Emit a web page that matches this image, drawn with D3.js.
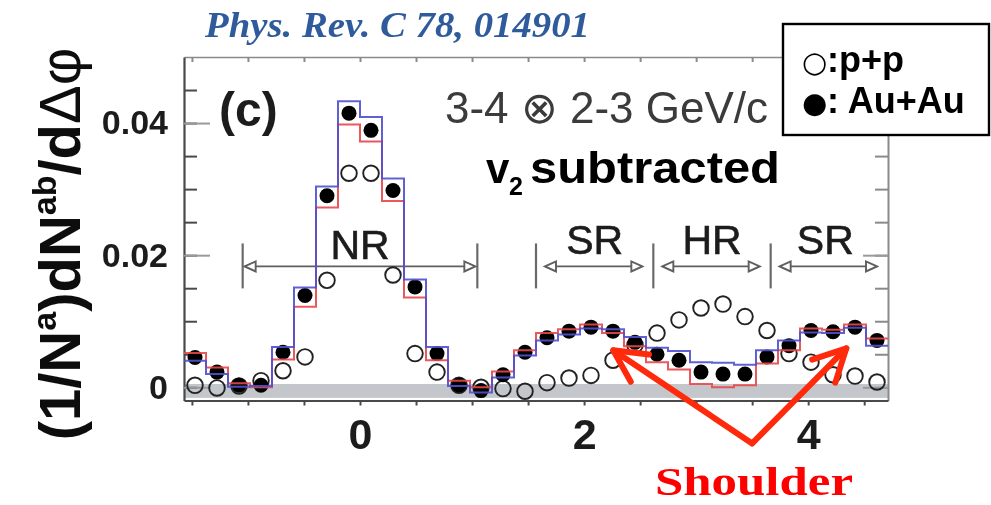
<!DOCTYPE html>
<html><head><meta charset="utf-8">
<script src="https://cdn.jsdelivr.net/npm/d3@7"></script>
<style>
html,body{margin:0;padding:0;background:#fff;}
svg{display:block;}
</style></head>
<body>
<svg id="chart" width="991" height="505"></svg>
<script>
// Δφ binning: 32 bins of width π/16 spanning [-π/2, 3π/2]
const nBins = 32;
const binWidth = Math.PI / 16;
const phiMin = -Math.PI / 2, phiMax = 3 * Math.PI / 2;

// Au+Au jet-induced pair yield per bin (v2 subtracted)
const auauValues = [0.0045, 0.0023, 0.0003, 0.0003, 0.0053, 0.0139, 0.0290, 0.0415,
                    0.0389, 0.0298, 0.0152, 0.0051, 0.0003, -0.0005, 0.0019, 0.0053,
                    0.0075, 0.0085, 0.0091, 0.0085, 0.0068, 0.0050, 0.0041, 0.0023,
                    0.0020, 0.0020, 0.0046, 0.0063, 0.0086, 0.0084, 0.0091, 0.0071];
// p+p reference per bin
const ppValues = [0.0003, -0.0001, 0.0002, 0.0010, 0.0025, 0.0046, 0.0162, 0.0324,
                  0.0324, 0.0170, 0.0051, 0.0023, 0.0003, 0.0000, -0.0002, -0.0006,
                  0.0007, 0.0014, 0.0018, 0.0041, 0.0064, 0.0082, 0.0102, 0.0120,
                  0.0126, 0.0107, 0.0086, 0.0051, 0.0038, 0.0019, 0.0017, 0.0008];
// v2 systematic envelope (blue and red step histograms)
const auauBlue = [0.0040, 0.0020, 0.0001, 0.0002, 0.0061, 0.0151, 0.0304, 0.0433,
                  0.0409, 0.0316, 0.0163, 0.0061, 0.0002, -0.0008, 0.0015, 0.0048,
                  0.0071, 0.0080, 0.0089, 0.0088, 0.0076, 0.0060, 0.0055, 0.0038,
                  0.0037, 0.0034, 0.0056, 0.0071, 0.0083, 0.0082, 0.0090, 0.0063];
const auauRed = [0.0052, 0.0030, 0.0006, 0.0000, 0.0042, 0.0122, 0.0272, 0.0398,
                 0.0372, 0.0282, 0.0136, 0.0041, 0.0010, 0.0000, 0.0024, 0.0056,
                 0.0082, 0.0088, 0.0095, 0.0082, 0.0062, 0.0038, 0.0027, 0.0005,
                 0.0000, 0.0003, 0.0036, 0.0056, 0.0089, 0.0087, 0.0095, 0.0074];

// normalization uncertainty band around zero
const zeroBand = [-0.0016, 0.0005];

// ticks
const yMinorTicks = [0, 0.005, 0.01, 0.015, 0.02, 0.025, 0.03, 0.035, 0.04, 0.045];
const yMajorTicks = [0, 0.02, 0.04];
const xTicks = [-1.5, -1, -0.5, 0, 0.5, 1, 1.5, 2, 2.5, 3, 3.5, 4, 4.5];
const xLabelTicks = [0, 2, 4];

// Δφ regions: near side, shoulder, head
const regionNames = ["NR", "SR", "HR", "SR"];
const regionFrom = [-Math.PI / 3, Math.PI / 2, 5 * Math.PI / 6, 7 * Math.PI / 6];
const regionTo = [Math.PI / 3, 5 * Math.PI / 6, 7 * Math.PI / 6, 3 * Math.PI / 2];
const regionArrowLevel = 0.0183;

// shoulder annotation: arrow tips and common vertex (Δφ, yield)
const shoulderTips = [[2.26, 0.0056], [4.34, 0.0059]];
const shoulderVertex = [3.50, -0.0085];

const SANS = "'Liberation Sans', Arial, Helvetica, sans-serif";
const SERIF = "'Liberation Serif', 'Times New Roman', serif";

const svg = d3.select("#chart");
const x = d3.scaleLinear().domain([phiMin, phiMax]).range([184, 888]);
const y = d3.scaleLinear().domain([-0.002, 0.05]).range([400.5, 57]);

const edges = d3.range(nBins + 1).map(i => phiMin + i * binWidth);
const centers = d3.range(nBins).map(i => phiMin + (i + 0.5) * binWidth);

const defs = svg.append("defs");
defs.append("filter").attr("id", "soft")
  .attr("x", "-5%").attr("y", "-5%").attr("width", "110%").attr("height", "110%")
  .append("feGaussianBlur").attr("stdDeviation", 0.6);

const fig = svg.append("g").attr("filter", "url(#soft)");

// zero band
fig.append("rect")
  .attr("x", x(phiMin)).attr("width", x(phiMax) - x(phiMin))
  .attr("y", y(zeroBand[1])).attr("height", y(zeroBand[0]) - y(zeroBand[1]))
  .attr("fill", "#c3c6cb");

// axes
function styleAxis(g, color, width) {
  g.select(".domain").attr("stroke", color).attr("stroke-width", width);
  g.selectAll(".tick line").attr("stroke", color).attr("stroke-width", 2);
}
const gTop = fig.append("g").attr("transform", `translate(0,${y.range()[1]})`)
  .call(d3.axisTop(x).tickValues(xTicks).tickSize(-5).tickSizeOuter(0).tickFormat(""));
styleAxis(gTop, "#8a8a8a", 1.6);

const gRight = fig.append("g").attr("transform", `translate(${x.range()[1]},0)`)
  .call(d3.axisRight(y).tickValues(yMinorTicks).tickSize(-13).tickSizeOuter(0).tickFormat(""));
styleAxis(gRight, "#8a8a8a", 2);
const gRightMaj = fig.append("g").attr("transform", `translate(${x.range()[1]},0)`)
  .call(d3.axisRight(y).tickValues(yMajorTicks).tickSize(-25).tickSizeOuter(0).tickFormat(""));
gRightMaj.select(".domain").remove();
gRightMaj.selectAll(".tick line").attr("stroke", "#9a9a9a").attr("stroke-width", 2);

const gBottom = fig.append("g").attr("transform", `translate(0,${y.range()[0]})`)
  .call(d3.axisBottom(x).tickValues(xTicks).tickSize(5).tickPadding(13).tickSizeOuter(0)
    .tickFormat(d => xLabelTicks.includes(d) ? d3.format("d")(d) : ""));
styleAxis(gBottom, "#4a4a4a", 2.2);
gBottom.selectAll(".tick text")
  .attr("font-family", SANS).attr("font-weight", "bold").attr("font-size", 43).attr("fill", "#1e1e1e");

const gLeft = fig.append("g").attr("transform", `translate(${x.range()[0]},0)`)
  .call(d3.axisLeft(y).tickValues(yMinorTicks).tickSize(-13).tickSizeOuter(0).tickFormat(""));
styleAxis(gLeft, "#4a4a4a", 2.2);
const gLeftMaj = fig.append("g").attr("transform", `translate(${x.range()[0]},0)`)
  .call(d3.axisLeft(y).tickValues(yMajorTicks).tickSize(-26).tickPadding(16).tickSizeOuter(0)
    .tickFormat(d => d === 0 ? "0" : d3.format(".2f")(d)));
gLeftMaj.select(".domain").remove();
gLeftMaj.selectAll(".tick line").attr("stroke", "#9a9a9a").attr("stroke-width", 2);
gLeftMaj.selectAll(".tick text")
  .attr("font-family", SANS).attr("font-weight", "bold").attr("font-size", 34).attr("fill", "#1e1e1e");

// region markers
const regionY = y(regionArrowLevel);
const boundaries = Array.from(new Set([...regionFrom, regionTo[0]]));
fig.selectAll(".rbar").data(boundaries).join("line")
  .attr("x1", d => x(d)).attr("x2", d => x(d))
  .attr("y1", regionY - 23).attr("y2", regionY + 22)
  .attr("stroke", "#6a6a6a").attr("stroke-width", 2.2);
const insetL = [2, 9, 9, 9], insetR = [2, 11, 11, 11];
regionNames.forEach((name, i) => {
  const xa = x(regionFrom[i]) + insetL[i];
  const xb = x(regionTo[i]) - insetR[i];
  const g = fig.append("g").attr("stroke", "#5e5e5e").attr("stroke-width", 1.9);
  g.append("line").attr("x1", xa + 10).attr("x2", xb - 10).attr("y1", regionY).attr("y2", regionY);
  g.append("path").attr("fill", "#fff")
    .attr("d", `M${xa},${regionY}L${xa + 11},${regionY - 5}L${xa + 11},${regionY + 5}Z`);
  g.append("path").attr("fill", "#fff")
    .attr("d", `M${xb},${regionY}L${xb - 11},${regionY - 5}L${xb - 11},${regionY + 5}Z`);
  fig.append("text")
    .attr("x", (x(regionFrom[i]) + x(regionTo[i])) / 2 - (i === 3 ? 4 : 0))
    .attr("y", regionY - (i === 0 ? 7 : 12))
    .attr("text-anchor", "middle")
    .attr("font-family", SANS).attr("font-size", 41).attr("fill", "#1c1c1c")
    .attr("stroke", "#1c1c1c").attr("stroke-width", 0.6)
    .text(name);
});

// p+p points
fig.selectAll(".pp").data(ppValues).join("circle")
  .attr("cx", (d, i) => x(centers[i])).attr("cy", d => y(d)).attr("r", 7.8)
  .attr("fill", "none").attr("stroke", "#222").attr("stroke-width", 1.9);

// Au+Au points
fig.selectAll(".auau").data(auauValues).join("circle")
  .attr("cx", (d, i) => x(centers[i])).attr("cy", d => y(d)).attr("r", 7.5)
  .attr("fill", "#050505");

// systematic step histograms
const stepLine = d3.line().x(d => x(d[0])).y(d => y(d[1]));
function steps(vals) {
  return vals.flatMap((v, i) => [[edges[i], v], [edges[i + 1], v]]);
}
fig.append("path").attr("d", stepLine(steps(auauRed)))
  .attr("fill", "none").attr("stroke", "#e9474a").attr("stroke-width", 2).attr("stroke-opacity", 0.9);
fig.append("path").attr("d", stepLine(steps(auauBlue)))
  .attr("fill", "none").attr("stroke", "#5050cf").attr("stroke-width", 2).attr("stroke-opacity", 0.9);

// panel label and momentum selection
fig.append("text").attr("x", 219).attr("y", 126)
  .attr("font-family", SANS).attr("font-weight", "bold").attr("font-size", 48).attr("fill", "#1e1e1e")
  .text("(c)");
fig.append("text").attr("x", 445).attr("y", 123)
  .attr("font-family", SANS).attr("font-size", 44).attr("fill", "#3a3a3a")
  .attr("textLength", 323).attr("lengthAdjust", "spacingAndGlyphs")
  .text("3-4 ⊗ 2-3 GeV/c");

// y-axis title
const yt = fig.append("text")
  .attr("transform", "translate(80,244) rotate(-90)")
  .attr("text-anchor", "middle")
  .attr("font-family", SANS).attr("font-weight", "bold").attr("font-size", 58).attr("fill", "#111");
yt.append("tspan").text("(1/N");
yt.append("tspan").attr("font-size", 34).attr("dy", -24).text("a");
yt.append("tspan").attr("dy", 24).text(")dN");
yt.append("tspan").attr("font-size", 34).attr("dy", -24).text("ab");
yt.append("tspan").attr("dy", 24).text("/d");
yt.append("tspan").attr("font-weight", "normal").text("Δφ");

// citation
svg.append("text").attr("x", 205).attr("y", 37)
  .attr("font-family", SERIF).attr("font-style", "italic").attr("font-weight", "bold")
  .attr("font-size", 35).attr("fill", "#2f5b9c")
  .attr("textLength", 385).attr("lengthAdjust", "spacingAndGlyphs")
  .text("Phys. Rev. C 78, 014901");

// v2 subtracted
svg.append("text").attr("x", 486).attr("y", 183)
  .attr("font-family", SANS).attr("font-weight", "bold").attr("font-size", 42).attr("fill", "#000")
  .text("v");
svg.append("text").attr("x", 509).attr("y", 195)
  .attr("font-family", SANS).attr("font-weight", "bold").attr("font-size", 25).attr("fill", "#000")
  .text("2");
svg.append("text").attr("x", 530).attr("y", 183)
  .attr("font-family", SANS).attr("font-weight", "bold").attr("font-size", 44).attr("fill", "#000")
  .attr("textLength", 250).attr("lengthAdjust", "spacingAndGlyphs")
  .text("subtracted");

// legend
const lg = svg.append("g");
lg.append("rect").attr("x", 783).attr("y", 24).attr("width", 206).attr("height", 111)
  .attr("fill", "#fff").attr("stroke", "#000").attr("stroke-width", 2.4);
lg.append("text").attr("x", 802).attr("y", 72)
  .attr("font-family", "'DejaVu Sans', sans-serif").attr("font-size", 29).attr("fill", "#000").text("○");
lg.append("text").attr("x", 827).attr("y", 72)
  .attr("font-family", SANS).attr("font-weight", "bold").attr("font-size", 36).attr("fill", "#000").text(":p+p");
lg.append("text").attr("x", 802).attr("y", 113)
  .attr("font-family", "'DejaVu Sans', sans-serif").attr("font-size", 29).attr("fill", "#000").text("●");
lg.append("text").attr("x", 827).attr("y", 113)
  .attr("font-family", SANS).attr("font-weight", "bold").attr("font-size", 36).attr("fill", "#000").text(": Au+Au");

// shoulder arrows
const arrowColor = "#ff2a0c";
const vx = x(shoulderVertex[0]), vy = y(shoulderVertex[1]);
const ag = svg.append("g").attr("stroke", arrowColor).attr("stroke-width", 6)
  .attr("stroke-linecap", "round").attr("stroke-linejoin", "round").attr("fill", "none");
shoulderTips.forEach(t => {
  const tx = x(t[0]), ty = y(t[1]);
  const ang = Math.atan2(vy - ty, vx - tx);
  const half = 27 * Math.PI / 180, len = 36;
  const b1 = [tx + len * Math.cos(ang - half), ty + len * Math.sin(ang - half)];
  const b2 = [tx + len * Math.cos(ang + half), ty + len * Math.sin(ang + half)];
  ag.append("path").attr("d", `M${vx},${vy}L${tx},${ty}`);
  ag.append("path").attr("d", `M${b1[0]},${b1[1]}L${tx},${ty}L${b2[0]},${b2[1]}`);
});
svg.append("text").attr("x", 655).attr("y", 495)
  .attr("font-family", SERIF).attr("font-weight", "bold").attr("font-size", 41).attr("fill", "#ff0000")
  .attr("textLength", 198).attr("lengthAdjust", "spacingAndGlyphs")
  .text("Shoulder");
</script>
</body></html>
